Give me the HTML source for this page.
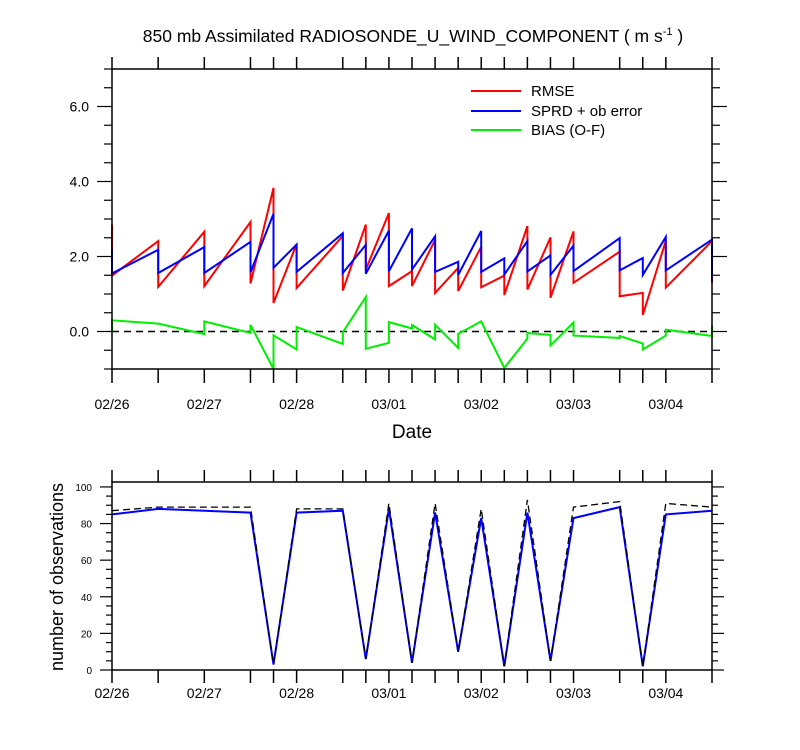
<!DOCTYPE html>
<html><head><meta charset="utf-8">
<style>
body{margin:0;background:#fff;}
svg{display:block;font-family:"Liberation Sans",sans-serif;}
</style></head>
<body>
<svg id="c" width="800" height="750" xmlns="http://www.w3.org/2000/svg"></svg>
<script>
// ---- data ----
const times = [0,0.5,1,1.5,1.75,2,2.5,2.75,3,3.25,3.5,3.75,4,4.25,4.5,4.75,5,5.5,5.75,6,6.5];
const dayLabels = ["02/26","02/27","02/28","03/01","03/02","03/03","03/04"];
const rmseA = [2.85,2.41,2.66,2.92,3.83,2.33,2.55,2.85,3.16,1.61,2.44,1.70,2.26,1.49,2.81,2.51,2.67,2.13,1.03,2.42,2.41];
const rmseB = [1.49,1.19,1.21,1.28,0.76,1.16,1.09,1.65,1.21,1.21,1.03,1.08,1.18,0.97,1.12,0.90,1.30,0.94,0.44,1.17,1.30];
const sprdA = [2.20,2.18,2.25,2.39,3.14,2.32,2.62,2.31,2.69,2.75,2.54,1.86,2.68,1.95,2.41,2.03,2.29,2.49,1.96,2.52,2.45];
const sprdB = [1.55,1.56,1.56,1.58,1.70,1.59,1.56,1.54,1.61,1.65,1.59,1.51,1.59,1.52,1.60,1.51,1.61,1.63,1.51,1.63,1.40];
const biasA = [0.00,0.21,-0.07,-0.04,-1.00,-0.48,-0.33,0.92,-0.30,0.08,-0.21,-0.44,0.27,-0.97,-0.19,-0.09,0.24,-0.17,-0.32,-0.11,-0.12];
const biasB = [0.30,0.21,0.27,0.18,-0.10,0.12,-0.02,-0.46,0.25,0.17,0.18,-0.06,0.27,-0.97,-0.04,-0.37,-0.11,-0.12,-0.48,0.05,0.17];
const nobsUsed = [85,88,87,86,3,86,87,6,88,4,86,10,83,2,86,5,83,89,2,85,87];
const nobsPoss = [87,89,89,89,3,88,88,6,91,4,91,10,88,2,93,5,89,92,2,91,89];
const yTopLabels = ["0.0","2.0","4.0","6.0"];
const yBotLabels = ["0","20","40","60","80","100"];

const svg = document.getElementById('c');
const NS = "http://www.w3.org/2000/svg";
function mk(tag, attrs, parent){const e=document.createElementNS(NS,tag);for(const k in attrs)e.setAttribute(k,attrs[k]);(parent||svg).appendChild(e);return e;}

const X0=112, X1=712, TMAX=6.5;
const xs = t => X0 + t/TMAX*(X1-X0);
const TY0=369, TY1=69, VMIN=-1, VMAX=7;
const yT = v => TY0 - (v-VMIN)/(VMAX-VMIN)*(TY0-TY1);
const BY0=670, BY1=482, NMAX=102.7;
const yB = v => BY0 - v/NMAX*(BY0-BY1);

function txt(x,y,s,attrs,name){const t=mk('text',Object.assign({x:x,y:y},attrs));t.textContent=s;return t;}

const title = mk('text',{x:413,y:42,'font-size':17.5,'text-anchor':'middle'});


title.innerHTML='850 mb Assimilated RADIOSONDE_U_WIND_COMPONENT ( m s<tspan dy="-7" font-size="11">-1</tspan><tspan dy="7"> )</tspan>';

function sawPath(A,B,ys){
  let d='';
  for(let i=0;i<times.length;i++){
    const x=xs(times[i]).toFixed(1);
    d += (i===0?'M':'L')+x+','+ys(A[i]).toFixed(1)+' L'+x+','+ys(B[i]).toFixed(1)+' ';
  }
  return d;
}
function linePath(V,ys){return times.map((t,i)=>(i?'L':'M')+xs(t).toFixed(1)+','+ys(V[i]).toFixed(1)).join(' ');}

// ---- top chart ----
const gT = mk('g',{});


const zl = mk('line',{x1:X0,x2:X1,y1:yT(0),y2:yT(0),stroke:'#000','stroke-width':1.5,'stroke-dasharray':'7,5'},gT);


const series=[[rmseA,rmseB,'#ff0000','rmse-line'],[sprdA,sprdB,'#0000ff','sprd-line'],[biasA,biasB,'#00ee00','bias-line']];
series.forEach(s=>{
  const p=mk('path',{d:sawPath(s[0],s[1],yT),fill:'none',stroke:s[2],'stroke-width':2,'stroke-linejoin':'miter'},gT);
  
  
});
const fT=mk('rect',{x:X0,y:TY1,width:X1-X0,height:TY0-TY1,fill:'none',stroke:'#000','stroke-width':1.5},gT);


times.forEach(t=>{
  const x=xs(t);
  mk('line',{x1:x,x2:x,y1:TY0,y2:TY0+14,stroke:'#000','stroke-width':1.5},gT);
  mk('line',{x1:x,x2:x,y1:TY1,y2:TY1-12,stroke:'#000','stroke-width':1.5},gT);
});
dayLabels.forEach((s,i)=>txt(xs(i),409,s,{'font-size':14,'text-anchor':'middle'},'top-x-label'));
for(let v=-1;v<=7.001;v+=0.5){
  const y=yT(v), major=Math.abs(v/2-Math.round(v/2))<1e-6;
  mk('line',{x1:X0-(major?15:8),x2:X0,y1:y,y2:y,stroke:'#000','stroke-width':1.2},gT);
  mk('line',{x1:X1,x2:X1+(major?15:8),y1:y,y2:y,stroke:'#000','stroke-width':1.2},gT);
}
yTopLabels.forEach(s=>txt(89,yT(parseFloat(s))+5,s,{'font-size':14,'text-anchor':'end'},'top-y-label'));
txt(412,438,'Date',{'font-size':19,'text-anchor':'middle'},'x-axis-title');
const legend=[['RMSE','#ff0000',91],['SPRD + ob error','#0000ff',111],['BIAS (O-F)','#00ee00',130]];
legend.forEach(l=>{
  const ln=mk('line',{x1:471,x2:521,y1:l[2],y2:l[2],stroke:l[1],'stroke-width':2});
  
  
  txt(531,l[2]+5,l[0],{'font-size':15},'legend-entry');
});

// ---- bottom chart ----
const gB=mk('g',{});


const pu=mk('path',{d:linePath(nobsUsed,yB),fill:'none',stroke:'#0000ff','stroke-width':2},gB);


const pp=mk('path',{d:linePath(nobsPoss,yB),fill:'none',stroke:'#000','stroke-width':1.3,'stroke-dasharray':'7,4'},gB);


const fB=mk('rect',{x:X0,y:BY1,width:X1-X0,height:BY0-BY1,fill:'none',stroke:'#000','stroke-width':1.5},gB);


times.forEach(t=>{
  const x=xs(t);
  mk('line',{x1:x,x2:x,y1:BY0,y2:BY0+13,stroke:'#000','stroke-width':1.5},gB);
  mk('line',{x1:x,x2:x,y1:BY1,y2:BY1-12,stroke:'#000','stroke-width':1.5},gB);
});
for(let v=0;v<=100;v+=5){
  const y=yB(v), major=v%20===0;
  mk('line',{x1:X0-(major?12:6),x2:X0,y1:y,y2:y,stroke:'#000','stroke-width':1.2},gB);
  mk('line',{x1:X1,x2:X1+(major?12:6),y1:y,y2:y,stroke:'#000','stroke-width':1.2},gB);
}
yBotLabels.forEach(s=>txt(92,yB(parseFloat(s))+4,s,{'font-size':10,'text-anchor':'end'},'bottom-y-label'));
dayLabels.forEach((s,i)=>txt(xs(i),698,s,{'font-size':14,'text-anchor':'middle'},'bottom-x-label'));
txt(0,0,'number of observations',{'font-size':18,'text-anchor':'middle',transform:'translate(63,577) rotate(-90)'},'bottom-y-axis-title');
</script>
</body></html>
